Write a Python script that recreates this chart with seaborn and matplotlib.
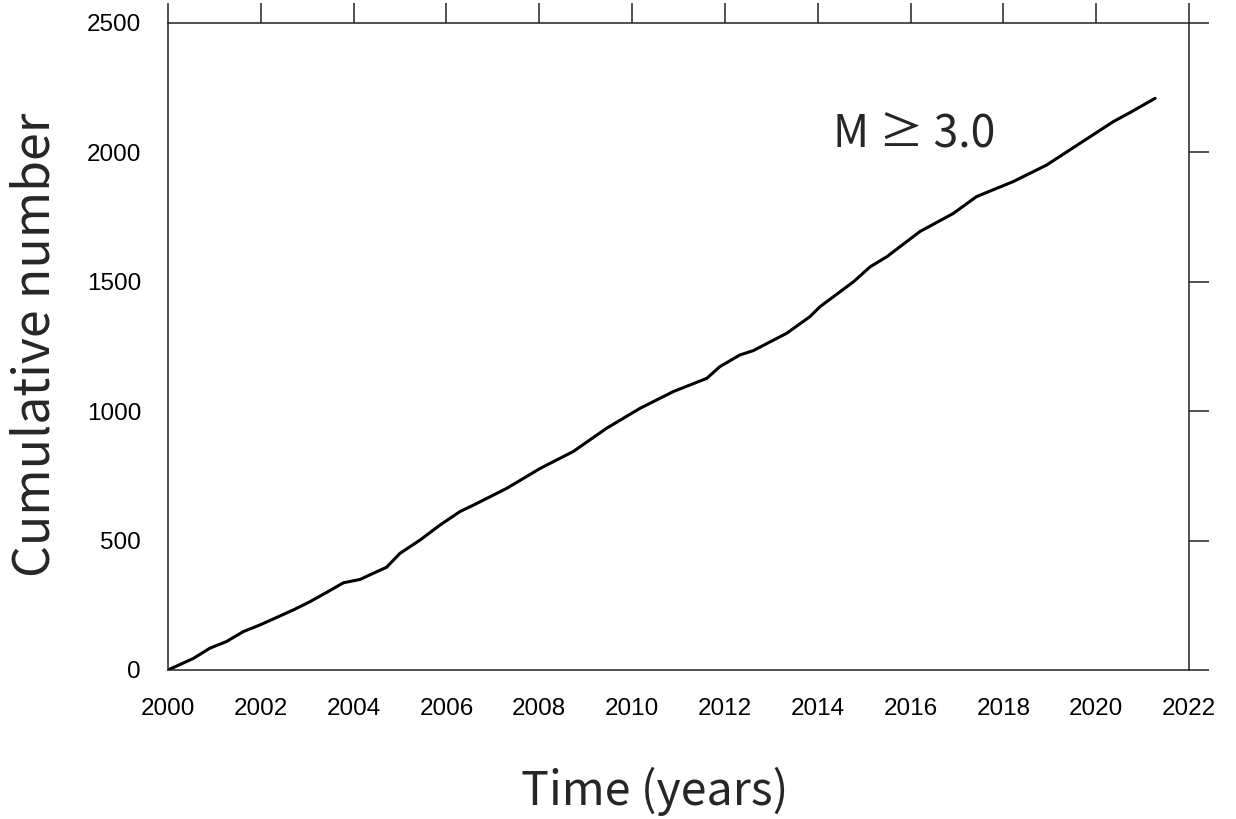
import matplotlib
matplotlib.use("Agg")
import matplotlib.pyplot as plt
import seaborn as sns
import pandas as pd

# Data
years = [2000.00, 2000.55, 2000.90, 2001.26, 2001.62, 2001.98, 2002.34, 2002.70,
         2003.06, 2003.42, 2003.78, 2004.14, 2004.50, 2004.71, 2005.00, 2005.43,
         2005.86, 2006.29, 2006.58, 2007.30, 2008.02, 2008.73, 2009.45, 2010.17,
         2010.89, 2011.61, 2011.89, 2012.32, 2012.61, 2013.33, 2013.83, 2014.05,
         2014.77, 2015.13, 2015.49, 2016.20, 2016.92, 2017.42, 2017.50, 2018.21,
         2018.93, 2019.65, 2020.37, 2020.73, 2021.27]
cumulative = [0, 45, 84, 110, 148, 174, 203, 232,
              264, 300, 337, 350, 380, 397, 451, 502,
              560, 612, 637, 702, 779, 844, 934, 1011,
              1076, 1127, 1172, 1217, 1234, 1301, 1365, 1404,
              1500, 1558, 1597, 1694, 1764, 1829, 1835, 1887,
              1951, 2035, 2119, 2154, 2209]

x_ticks = list(range(2000, 2023, 2))
y_ticks = [0, 500, 1000, 1500, 2000, 2500]
x_label = "Time (years)"
y_label = "Cumulative number"
annotation = "M ≥ 3.0"

sns.set_style("white")
plt.rcParams['font.family'] = ['Liberation Sans', 'DejaVu Sans']

df = pd.DataFrame({"year": years, "count": cumulative})

fig = plt.figure(figsize=(12.36, 8.19), dpi=100)
ax = fig.add_axes([168/1236, 1 - 670/819, (1189 - 168)/1236, (670 - 23)/819])

sns.lineplot(data=df, x="year", y="count", ax=ax, color="black", linewidth=2.2)

ax.set_xlim(2000, 2022)
ax.set_ylim(0, 2500)
ax.set_xticks(x_ticks)
ax.set_yticks(y_ticks)
ax.set_xticklabels([str(t) for t in x_ticks])
ax.set_yticklabels([str(t) for t in y_ticks])

for s in ax.spines.values():
    s.set_visible(True)
    s.set_color("#222222")
    s.set_linewidth(1.1)

ax.tick_params(axis="both", direction="out", length=14.4, width=1.1, color="#222222",
               top=True, right=True, labeltop=False, labelright=False,
               labelsize=17.5, labelcolor="black")
ax.tick_params(axis="x", pad=6)
ax.tick_params(axis="y", pad=5)

cjk = ['Noto Sans CJK JP', 'DejaVu Sans']
ax.set_xlabel(x_label, fontsize=33.5, family=cjk, fontweight="normal")
ax.set_ylabel(y_label, fontsize=36, family=cjk, fontweight="normal")
ax.xaxis.label.set_va("center")
ax.yaxis.label.set_va("center")
ax.xaxis.set_label_coords(0.477, -0.188)
ax.yaxis.set_label_coords(-0.130, 0.502)

ax.text(2014.33, 2071, annotation, fontsize=32, family=cjk, fontweight="normal",
        ha="left", va="center")

fig.savefig("out.png", dpi=100, facecolor="white")
